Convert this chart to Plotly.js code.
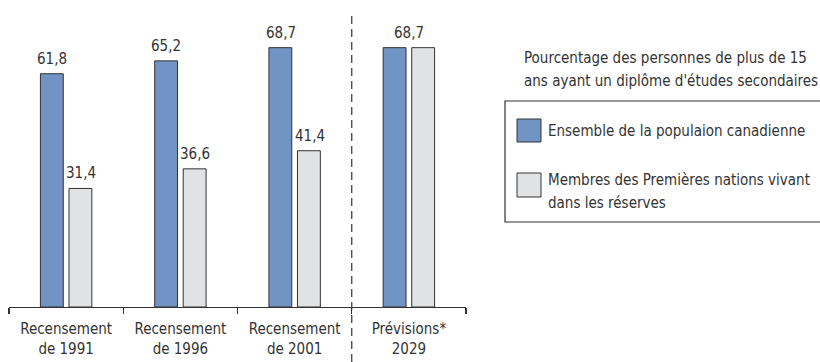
<!DOCTYPE html>
<html>
<head>
<meta charset="utf-8">
<script src="https://cdn.plot.ly/plotly-3.0.1.min.js"></script>
<style>html,body{margin:0;padding:0;background:#fff;}#chart{width:820px;height:362px;}</style>
</head>
<body>
<div id="chart"></div>
<script>
const categories = ["Recensement<br>de 1991", "Recensement<br>de 1996", "Recensement<br>de 2001", "Prévisions*<br>2029"];
const canada = [61.8, 65.2, 68.7, 68.7];
const premieresNations = [31.4, 36.6, 41.4, 68.7];
const seriesNames = ["Ensemble de la populaion canadienne", "Membres des Premières nations vivant", "dans les réserves"];
const legendTitle = ["Pourcentage des personnes de plus de 15", "ans ayant un diplôme d'études secondaires"];

const FONT = "Liberation Sans Narrow, Arial Narrow, DejaVu Sans Condensed, sans-serif";
const FS = 15;
const BLUE = "#7294c4", GRAY = "#e1e2e4", EDGE = "#333333";

const traces = [
  {type: "bar", x: categories, y: canada, name: seriesNames[0], width: 0.2, offset: -0.225,
   marker: {color: BLUE, line: {color: EDGE, width: 1}}, showlegend: false, hoverinfo: "none"},
  {type: "bar", x: categories, y: premieresNations, name: seriesNames[1] + " " + seriesNames[2], width: 0.2, offset: 0.025,
   marker: {color: GRAY, line: {color: EDGE, width: 1}}, showlegend: false, hoverinfo: "none"}
];

const fmt = v => v.toFixed(1).replace(".", ",");
const annotations = [];
const lab = (c, v, xs) => ({x: c, y: v, xref: "x", yref: "y", text: fmt(v), showarrow: false,
  xshift: xs, yanchor: "bottom", yshift: 4, font: {family: FONT, size: FS, color: EDGE}});
categories.forEach((c, i) => {
  if (i === categories.length - 1 && canada[i] === premieresNations[i]) {
    annotations.push(lab(c, canada[i], 0));
  } else {
    annotations.push(lab(c, canada[i], -14));
    annotations.push(lab(c, premieresNations[i], 15));
  }
});

// plot area: x 9..466, y 5..307 (pixels)
const L = 9, R = 466, T = 5, B = 307;
const px = x => (x - L) / (R - L), py = y => (B - y) / (B - T);
const txt = (x, y, t) => ({xref: "paper", yref: "paper", x: px(x), y: py(y), xanchor: "left", yanchor: "middle",
  align: "left", text: t, showarrow: false, font: {family: FONT, size: FS, color: EDGE}});
annotations.push(txt(522, 58, legendTitle[0]));
annotations.push(txt(522, 81, legendTitle[1]));
annotations.push(txt(546, 131, seriesNames[0]));
annotations.push(txt(546, 180, seriesNames[1]));
annotations.push(txt(546, 203, seriesNames[2]));

const shapes = [
  {type: "line", xref: "x", yref: "paper", x0: 2.5, x1: 2.5, y0: py(362), y1: py(12),
   line: {color: EDGE, width: 1.2, dash: "8px,5px"}},
  {type: "rect", xref: "paper", yref: "paper", x0: px(505), x1: px(830), y0: py(222), y1: py(101),
   line: {color: EDGE, width: 1.2}, fillcolor: "rgba(0,0,0,0)"},
  {type: "rect", xref: "paper", yref: "paper", x0: px(517), x1: px(541), y0: py(142), y1: py(119),
   line: {color: EDGE, width: 1}, fillcolor: BLUE},
  {type: "rect", xref: "paper", yref: "paper", x0: px(517), x1: px(541), y0: py(197), y1: py(173),
   line: {color: EDGE, width: 1}, fillcolor: GRAY}
];

const layout = {
  width: 820, height: 362,
  margin: {l: L, r: 820 - R, t: T, b: 362 - B, pad: 0},
  paper_bgcolor: "#fff", plot_bgcolor: "#fff",
  font: {family: FONT, size: FS, color: EDGE},
  xaxis: {type: "category", range: [-0.5, 3.5], showline: true, linecolor: EDGE, linewidth: 1.2,
    ticks: "outside", tickson: "boundaries", ticklen: 6, tickcolor: EDGE, tickwidth: 1.2,
    ticklabelstandoff: 8,
    showgrid: false, zeroline: false, fixedrange: true,
    tickfont: {family: FONT, size: FS, color: EDGE}},
  yaxis: {range: [0, 80], visible: false, showgrid: false, zeroline: false, fixedrange: true},
  bargap: 0,
  showlegend: false,
  annotations: annotations,
  shapes: shapes
};

Plotly.newPlot("chart", traces, layout, {displayModeBar: false, staticPlot: true});
</script>
</body>
</html>
